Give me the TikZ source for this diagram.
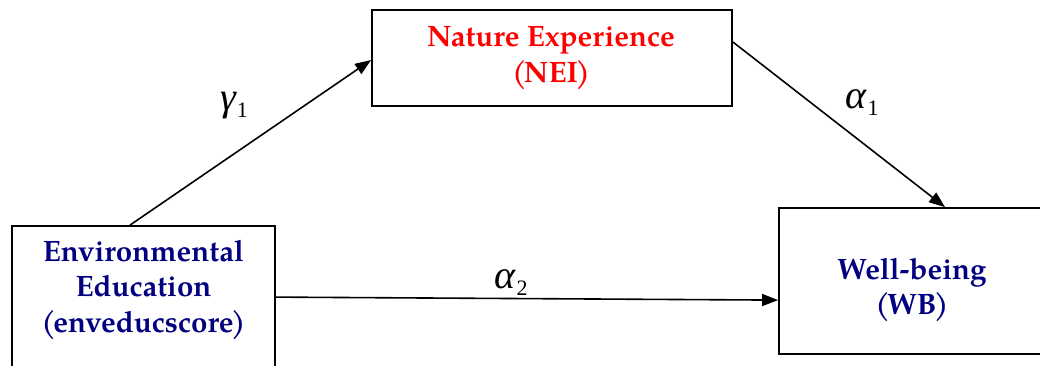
\documentclass[tikz,border=0pt]{standalone}
\usepackage{fontspec}
\setmainfont{TeX Gyre Pagella}
\newfontfamily\tmsfont{Liberation Serif}
\usetikzlibrary{arrows.meta,calc}
\definecolor{navyt}{RGB}{0,0,128}
\definecolor{redt}{RGB}{255,0,0}
\newcommand{\greeklab}[2]{{\itshape #1}\kern1pt\raisebox{-7pt}{\fontsize{22}{22}\selectfont #2}}
\newcommand{\parens}[1]{(\kern-2.5pt#1\kern-2.5pt)}
\tikzset{
  box/.style={draw=black, line width=1.8pt, fill=white, inner sep=0pt},
  lbl/.style={font=\fontsize{29.5}{35.5}\selectfont\bfseries, align=center, inner sep=0pt},
  conn/.style={line width=1.6pt, -{Triangle[length=16pt,width=12pt]}},
  greek/.style={font=\tmsfont\fontsize{40}{40}\selectfont, inner sep=0pt}
}
\begin{document}
\begin{tikzpicture}[x=1pt,y=-1pt]
\useasboundingbox (0,0) rectangle (1040,365);
\begin{scope}
\clip (0,0) rectangle (1040,365);
% boxes
\node[box, minimum width=360pt, minimum height=96pt] (nei) at (552,58) {};
\node[box, minimum width=263pt, minimum height=160pt] (ee) at (143.5,306) {};
\node[box, minimum width=266pt, minimum height=146pt] (wb) at (912,281) {};
\end{scope}
% texts
\node[lbl, text=redt] (neit) at (551,58) {Nature Experience\\\parens{NEI}};
\node[lbl, text=navyt] (eet) at (143.5,290) {Environmental\\Education\\\parens{enveducscore}};
\node[lbl, text=navyt] (wbt) at (912,290) {Well-being\\\parens{WB}};
% connector end points
\coordinate (a1s) at ([xshift=-13.5pt]ee.north);
\coordinate (a1e) at ([yshift=-2pt]nei.west);
\coordinate (a2s) at ([yshift=16pt]nei.east);
\coordinate (a2e) at ([xshift=33pt]wb.north);
\coordinate (a3s) at ($(ee.north east)+(0,72)$);
\coordinate (a3e) at ($(wb.north west)+(0,93)$);
\draw[conn] (a1s) -- (a1e);
\draw[conn] (a2s) -- (a2e);
\draw[conn] (a3s) -- (a3e);
% labels
\node[greek] (g1) at (234,106) {\greeklab{γ}{1}};
\node[greek] (al1) at (862,103) {\greeklab{α}{1}};
\node[greek] (al2) at (511,283) {\greeklab{α}{2}};
\end{tikzpicture}
\end{document}
